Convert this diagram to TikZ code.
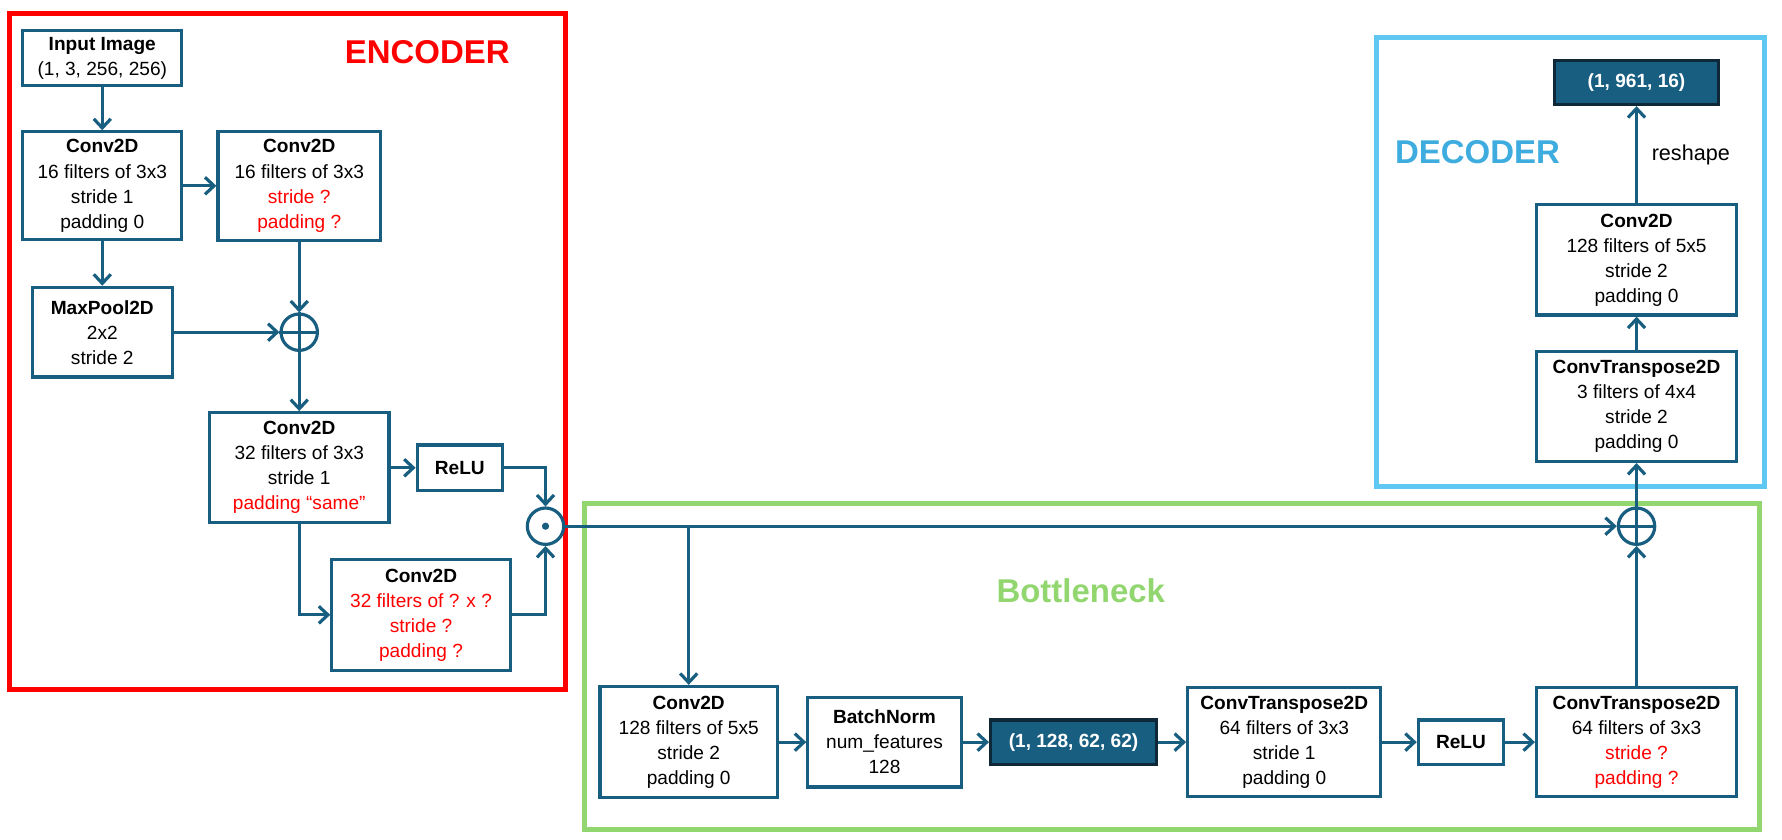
\documentclass[tikz,border=0pt]{standalone}
\usepackage{fontspec}
\setmainfont{Liberation Sans}
\usetikzlibrary{positioning, arrows.meta}

\definecolor{netblue}{RGB}{24,94,128}
\definecolor{netdark}{RGB}{14,40,56}
\definecolor{encred}{RGB}{255,0,0}
\definecolor{botgreen}{RGB}{146,214,112}
\definecolor{decframe}{RGB}{94,200,242}
\definecolor{dectext}{RGB}{62,172,222}

\newcommand{\boxfont}{\fontsize{16.8}{22}\selectfont}
\newcommand{\askred}[1]{\textcolor{encred}{#1}}

\tikzstyle{block} = [draw = netblue, line width = 2.8pt, fill = white, align = center, inner sep = 0pt, font = \boxfont]
\tikzstyle{tensor} = [draw = netdark, line width = 2.8pt, fill = netblue, text = white, font = \boxfont\bfseries, minimum width = 146pt, minimum height = 39pt, inner sep = 0pt]
\tikzstyle{op} = [circle, draw = netblue, line width = 2.8pt, minimum size = 32pt, inner sep = 0pt]
\tikzstyle{flow} = [draw = netblue, line width = 2.8pt, -{Straight Barb[length = 8pt, width = 15pt]}]
\tikzstyle{title} = [font = \fontsize{29}{34}\selectfont\bfseries, inner sep = 0pt]
\tikzstyle{frame} = [line width = 4.4pt]

\begin{document}
\begin{tikzpicture}[x = 1pt, y = -1pt]
        \useasboundingbox (0,0) rectangle (1568,739);

        % frames
        \draw[frame, encred] (8,12) rectangle (498,607);
        \draw[frame, botgreen] (514,443) rectangle (1548,730);
        \draw[frame, decframe] (1211,33) rectangle (1553,428);

        \node[title, text = encred] (enc) at (376,46) {ENCODER};
        \node[title, text = botgreen] (bot) at (951,520) {Bottleneck};
        \node[title, text = dectext] (dec) at (1300,134) {DECODER};

        % encoder
        \node[block, minimum width = 140pt, minimum height = 48pt] (in) at (90,51) {\textbf{Input Image}\\(1, 3, 256, 256)};
        \node[block, minimum width = 140pt, minimum height = 95pt] (c1) at (90,163.5) {\textbf{Conv2D}\\16 filters of 3x3\\stride 1\\padding 0};
        \node[block, minimum width = 143pt, minimum height = 96pt, right = 29pt of c1] (c2) {\textbf{Conv2D}\\16 filters of 3x3\\\askred{stride ?}\\\askred{padding ?}};
        \node[block, minimum width = 123pt, minimum height = 79pt, below = 39pt of c1] (mp) {\textbf{MaxPool2D}\\2x2\\stride 2};
        \node[op] (add1) at (c2 |- mp) {};
        \draw[netblue, line width = 2.8pt] (add1.north) -- (add1.south) (add1.west) -- (add1.east);
        \node[block, minimum width = 158pt, minimum height = 97pt, below = 52pt of add1] (c3) {\textbf{Conv2D}\\32 filters of 3x3\\stride 1\\\askred{padding “same”}};
        \node[block, minimum width = 75pt, minimum height = 40pt, right = 22pt of c3] (r1) {\textbf{ReLU}};
        \node[op] (mul) at (480,463) {};
        \fill[netblue] (mul) circle (3.2pt);
        \node[block, minimum width = 157pt, minimum height = 98pt] (c4) at (370.5,541) {\textbf{Conv2D}\\\askred{32 filters of ? x ?}\\\askred{stride ?}\\\askred{padding ?}};

        % bottleneck
        \node[block, minimum width = 156pt, minimum height = 98pt] (b1) at (606,653) {\textbf{Conv2D}\\128 filters of 5x5\\stride 2\\padding 0};
        \node[block, minimum width = 135pt, minimum height = 79pt, right = 24pt of b1] (bn) {\textbf{BatchNorm}\\num\_features\\128};
        \node[tensor, right = 23pt of bn] (t1) {(1, 128, 62, 62)};
        \node[block, minimum width = 170pt, minimum height = 96pt] (b2) at (1130,653) {\textbf{ConvTranspose2D}\\64 filters of 3x3\\stride 1\\padding 0};
        \node[block, minimum width = 75pt, minimum height = 39pt] (r2) at (1285.5,653) {\textbf{ReLU}};
        \node[block, minimum width = 176pt, minimum height = 96pt] (b3) at (1440,653) {\textbf{ConvTranspose2D}\\64 filters of 3x3\\\askred{stride ?}\\\askred{padding ?}};
        \node[op] (add2) at (1440,463) {};
        \draw[netblue, line width = 2.8pt] (add2.north) -- (add2.south) (add2.west) -- (add2.east);

        % decoder
        \node[block, minimum width = 176pt, minimum height = 97pt] (d1) at (1440,357.5) {\textbf{ConvTranspose2D}\\3 filters of 4x4\\stride 2\\padding 0};
        \node[block, minimum width = 176pt, minimum height = 97pt, above = 29pt of d1] (d2) {\textbf{Conv2D}\\128 filters of 5x5\\stride 2\\padding 0};
        \node[tensor, minimum width = 144pt] (o1) at (1440,72.5) {(1, 961, 16)};

        % connectors
        \path[flow] (in) -- (c1);
        \path[flow] (c1) -- (c2);
        \path[flow] (c1) -- (mp);
        \path[flow] (c2) -- (add1);
        \path[flow] (mp) -- (add1);
        \path[flow] (add1) -- (c3);
        \path[flow] (c3) -- (r1);
        \path[flow] (r1) -| (mul);
        \path[flow] (c3) |- (c4);
        \path[flow] (c4) -| (mul);
        \path[flow] (mul) -- (add2);
        \path[flow] (mul -| b1) -- (b1);
        \path[flow] (b1) -- (bn);
        \path[flow] (bn) -- (t1);
        \path[flow] (t1) -- (b2);
        \path[flow] (b2) -- (r2);
        \path[flow] (r2) -- (b3);
        \path[flow] (b3) -- (add2);
        \path[flow] (add2) -- (d1);
        \path[flow] (d1) -- (d2);
        \path[flow] (d2) -- (o1) node[midway, right = 12pt, inner sep = 0pt, font = \fontsize{19}{22}\selectfont] {reshape};
\end{tikzpicture}
\end{document}
